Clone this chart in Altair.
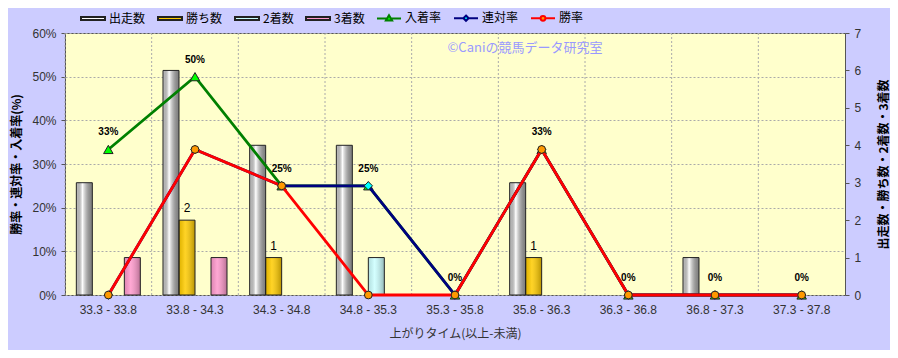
import altair as alt
import pandas as pd

cats = ["33.3 - 33.8", "33.8 - 34.3", "34.3 - 34.8", "34.8 - 35.3", "35.3 - 35.8",
        "35.8 - 36.3", "36.3 - 36.8", "36.8 - 37.3", "37.3 - 37.8"]
runners = [3, 6, 4, 4, 0, 3, 0, 1, 0]      # 出走数
wins = [0, 2, 1, 0, 0, 1, 0, 0, 0]         # 勝ち数
seconds = [0, 0, 0, 1, 0, 0, 0, 0, 0]      # 2着数
thirds = [1, 1, 0, 0, 0, 0, 0, 0, 0]       # 3着数
place_rate = [0.3333, 0.5, 0.25, 0.25, 0, 0.3333, 0, 0, 0]   # 入着率
top2_rate = [0, 0.3333, 0.25, 0.25, 0, 0.3333, 0, 0, 0]      # 連対率
win_rate = [0, 0.3333, 0.25, 0, 0, 0.3333, 0, 0, 0]          # 勝率

bar_series = ["出走数", "勝ち数", "2着数", "3着数"]
line_series = ["入着率", "連対率", "勝率"]
all_series = bar_series + line_series

bar_rows = []
for name, vals in zip(bar_series, [runners, wins, seconds, thirds]):
    for c, v in zip(cats, vals):
        bar_rows.append({"cat": c, "series": name, "value": v})
bars_df = pd.DataFrame(bar_rows)

line_rows = []
for name, vals in zip(line_series, [place_rate, top2_rate, win_rate]):
    for c, v in zip(cats, vals):
        line_rows.append({"cat": c, "series": name, "rate": v})
lines_df = pd.DataFrame(line_rows)
cats_df = pd.DataFrame({"cat": cats})

JP = "Noto Sans CJK JP"
LAT = "Liberation Sans"

fill_range = ["#FFFFFF", "#FFCC00", "#CCFFFF", "#FF99CC", "#00FF00", "#00FFFF", "#FF9900"]
stroke_range = ["#222222", "#222222", "#222222", "#222222", "#008000", "#000080", "#FF0000"]
rect_path = "M-1,-0.13H1V0.13H-1Z"
shape_range = [rect_path] * 4 + [
    "M-1,0H-0.14M0.14,0H1M0,-0.26L0.26,0.18L-0.26,0.18Z",
    "M-1,0H-0.22M0.22,0H1M0,-0.22L0.22,0L0,0.22L-0.22,0Z",
    "M-1,0H-0.2M0.2,0H1M-0.2,0A0.2,0.2 0 1,0 0.2,0A0.2,0.2 0 1,0 -0.2,0Z",
]

leg = alt.Legend(orient="none", legendX=15, legendY=-28, direction="horizontal", title=None,
                 symbolSize=576, labelFont=JP, labelFontSize=12, labelColor="#000000",
                 labelOffset=3, columnPadding=8, symbolStrokeWidth=2)
fill_scale = alt.Scale(domain=all_series, range=fill_range)
stroke_scale = alt.Scale(domain=all_series, range=stroke_range)
shape_scale = alt.Scale(domain=all_series, range=shape_range)

x_axis = alt.Axis(title="上がりタイム(以上-未満)", labelAngle=0, ticks=False, domain=False,
                  grid=False, labelPadding=9, titlePadding=13, labelFont=LAT, labelFontSize=12,
                  labelColor="#333333", titleFont=JP, titleFontSize=12, titleFontWeight="normal",
                  titleColor="#333333")
x_scale = alt.Scale(domain=cats, paddingInner=0, paddingOuter=0)
X = alt.X("cat:N", scale=x_scale, axis=x_axis, sort=cats)
XO = alt.XOffset("series:N", scale=alt.Scale(domain=bar_series, paddingInner=0, paddingOuter=0.708))

count_axis = alt.Axis(orient="right", values=list(range(8)), grid=False, tickSize=4, domain=False,
                      tickColor="#555555", labelPadding=5, labelFont=LAT, labelFontSize=12,
                      labelColor="#333333", title="出走数・勝ち数・2着数・3着数", titleAngle=270,
                      titleBaseline="top",
                      titleFont=JP, titleFontSize=12, titleFontWeight="bold", titleColor="#000000",
                      titlePadding=18)
YC = alt.Y("value:Q", scale=alt.Scale(domain=[0, 7]), axis=count_axis, stack=None)

rate_axis = alt.Axis(orient="left", values=[0, 0.1, 0.2, 0.3, 0.4, 0.5, 0.6], format=".0%",
                     grid=True, gridDash=[2, 2], gridColor="#AAAAAA", tickSize=4, domain=False,
                     tickColor="#555555", labelPadding=5, labelFont=LAT, labelFontSize=12,
                     labelColor="#333333", title="勝率・連対率・入着率(%)", titleAngle=270,
                     titleFont=JP, titleFontSize=12, titleFontWeight="bold", titleColor="#000000",
                     titlePadding=8)
YR = alt.Y("rate:Q", scale=alt.Scale(domain=[0, 0.6]), axis=rate_axis)

vgrid = alt.Chart(cats_df).mark_rule(color="#AAAAAA", strokeDash=[2, 2], strokeWidth=1).encode(
    x=alt.X("cat:N", scale=x_scale, axis=x_axis, sort=cats, bandPosition=0)
)


def grad(left, mid, right):
    return alt.LinearGradient(
        gradient="linear", x1=0, x2=1, y1=0, y2=0,
        stops=[alt.GradientStop(color=left, offset=0),
               alt.GradientStop(color=mid, offset=0.38),
               alt.GradientStop(color=right, offset=1)])


bars_base = alt.Chart(bars_df).transform_filter("datum.value > 0")
bars = bars_base.mark_bar(strokeWidth=0).encode(
    x=X, xOffset=XO, y=YC,
    fill=alt.Fill("series:N", scale=fill_scale, legend=leg),
)
shade_white = bars_base.transform_filter("datum.series == '出走数'").mark_bar(
    color=grad("rgba(0,0,0,0.22)", "rgba(255,255,255,0.9)", "rgba(0,0,0,0.5)"),
    stroke="#222222", strokeWidth=1,
).encode(x=X, xOffset=XO, y=YC)
shade_col = bars_base.transform_filter("datum.series != '出走数'").mark_bar(
    color=grad("rgba(0,0,0,0.12)", "rgba(255,255,255,0.15)", "rgba(0,0,0,0.28)"),
    stroke="#222222", strokeWidth=1,
).encode(x=X, xOffset=XO, y=YC)
win_labels = alt.Chart(bars_df).transform_filter(
    "datum.series == '勝ち数' && datum.value > 0").mark_text(
    dy=-12, fontSize=12, font=LAT, color="#000000").encode(
    x=X, xOffset=XO, y=YC, text=alt.Text("value:Q"))

count_group = alt.layer(vgrid, bars, shade_white, shade_col, win_labels)

markers = {"入着率": ("triangle-up", 90), "連対率": ("diamond", 70), "勝率": ("circle", 60)}
rate_layers = []
for name in line_series:
    src = alt.Chart(lines_df).transform_filter(alt.datum.series == name)
    rate_layers.append(src.mark_line(strokeWidth=2.8).encode(
        x=X, y=YR, stroke=alt.Stroke("series:N", scale=stroke_scale, legend=leg)))
    shp, sz = markers[name]
    rate_layers.append(src.mark_point(shape=shp, size=sz, filled=True, opacity=1,
                                      stroke="#222222", strokeWidth=1).encode(
        x=X, y=YR, fill=alt.Fill("series:N", scale=fill_scale, legend=leg)))

legend_shapes = alt.Chart(lines_df).transform_filter("false").mark_point().encode(
    x=X, y=YR, shape=alt.Shape("series:N", scale=shape_scale, legend=leg))

rate_labels = alt.Chart(lines_df).transform_filter(alt.datum.series == "入着率").mark_text(
    dy=-17, fontSize=10, fontWeight="bold", font=LAT, color="#000000").encode(
    x=X, y=YR, text=alt.Text("rate:Q", format=".0%"))

watermark = alt.Chart(alt.Data(values=[{}])).mark_text(
    fontSize=13, font=JP, color="#9999FF", align="center", baseline="middle").encode(
    x=alt.value(460), y=alt.value(15), text=alt.value("©Caniの競馬データ研究室"))

rate_group = alt.layer(*rate_layers, legend_shapes, rate_labels, watermark)

chart = alt.layer(count_group, rate_group).resolve_scale(y="independent").properties(
    width=780, height=262,
    autosize=alt.AutoSizeParams(type="none"),
    padding={"left": 57, "top": 25, "right": 45, "bottom": 55},
).configure(background="#CCCCFF").configure_view(
    fill="#FFFFCC", stroke="#555555", strokeWidth=1
)

chart.save("out.html", embed_options={"renderer": "svg", "actions": False})
